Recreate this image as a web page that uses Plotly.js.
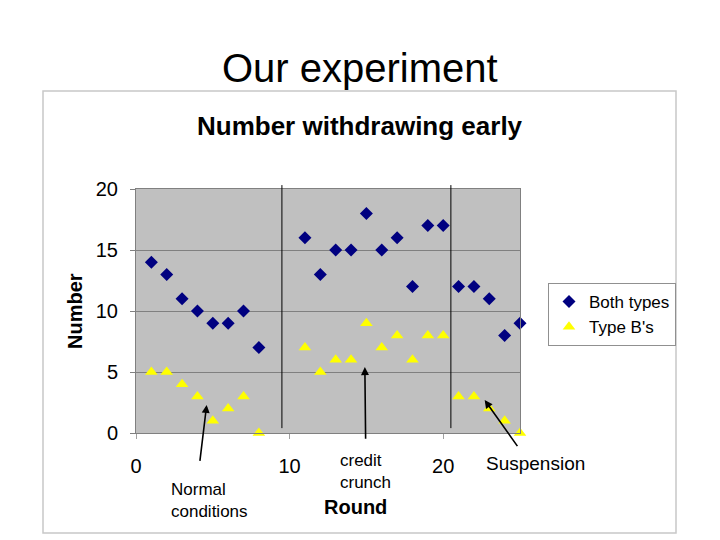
<!DOCTYPE html>
<html>
<head>
<meta charset="utf-8">
<script src="https://cdn.plot.ly/plotly-3.0.1.min.js"></script>
<style>html,body{margin:0;padding:0;background:#fff;}#chart{width:720px;height:540px;}</style>
</head>
<body>
<div id="chart"></div>
<script>
// Data
var roundsA = [1,2,3,4,5,6,7,8];
var roundsB = [11,12,13,14,15,16,17,18,19,20];
var roundsC = [21,22,23,24,25];
var bothTypesA = [14,13,11,10,9,9,10,7];
var bothTypesB = [16,13,15,15,18,15,16,12,17,17];
var bothTypesC = [12,12,11,8,9];
var typeBsA = [5,5,4,3,1,2,3,0];
var typeBsB = [7,5,6,6,9,7,8,6,8,8];
var typeBsC = [3,3,2,1,0];
var rounds = roundsA.concat(roundsB, roundsC);
var bothTypes = bothTypesA.concat(bothTypesB, bothTypesC);
var typeBs = typeBsA.concat(typeBsB, typeBsC);
var phaseBreaks = [9.5, 20.5];
var yTicks = [0,5,10,15,20];
var xTicks = [0,10,20];

var font = 'Liberation Sans, Arial, sans-serif';

var traces = [
  {x: rounds, y: bothTypes, type: 'scatter', mode: 'markers', name: 'Both types',
   marker: {symbol: 'diamond', size: 10, color: '#000080'}, cliponaxis: false},
  {x: rounds, y: typeBs, type: 'scatter', mode: 'markers', name: "Type B's",
   marker: {symbol: 'triangle-up', size: 11, color: '#ffff00'}, cliponaxis: false}
];

var shapes = phaseBreaks.map(function(b){
  return {type: 'line', xref: 'x', yref: 'paper', x0: b, x1: b, y0: 0.02, y1: 1.016,
          line: {color: '#000000', width: 1}};
});
// outer chart frame
shapes.push({type: 'rect', xref: 'paper', yref: 'paper',
  x0: (43-136)/384, x1: (676-136)/384, y0: (433-533)/244, y1: (433-91)/244,
  line: {color: '#c8c8c8', width: 1.5}, layer: 'below'});

function px(x){ return (x-136)/384; }
function py(y){ return (433-y)/244; }

var annotations = [
  {text: 'Our experiment', xref: 'paper', yref: 'paper', x: px(360), y: py(68),
   xanchor: 'center', yanchor: 'middle',
   showarrow: false, font: {family: font, size: 40, color: '#000'}},
  {text: '<b>Number withdrawing early</b>', xref: 'paper', yref: 'paper', x: px(360), y: py(126),
   xanchor: 'center', yanchor: 'middle',
   showarrow: false, font: {family: font, size: 26, color: '#000'}},
  {text: '<b>Round</b>', xref: 'paper', yref: 'paper', x: px(355), y: py(507),
   xanchor: 'center', yanchor: 'middle',
   showarrow: false, font: {family: font, size: 20, color: '#000'}},
  {text: '<b>Number</b>', xref: 'paper', yref: 'paper', x: px(75), y: 0.5, textangle: -90,
   xanchor: 'center', yanchor: 'middle',
   showarrow: false, font: {family: font, size: 20, color: '#000'}},
  {text: 'Normal<br>conditions', xref: 'paper', yref: 'paper', x: px(169), y: py(500),
   xanchor: 'left', yanchor: 'middle', align: 'left', showarrow: false, font: {family: font, size: 17, color: '#000'}},
  {text: 'credit<br>crunch', xref: 'paper', yref: 'paper', x: px(338), y: py(471),
   xanchor: 'left', yanchor: 'middle', align: 'left', showarrow: false, font: {family: font, size: 17, color: '#000'}},
  {text: 'Suspension', xref: 'paper', yref: 'paper', x: px(535), y: py(463),
   xanchor: 'center', yanchor: 'middle',
   showarrow: false, font: {family: font, size: 19, color: '#000'}},
  {text: '', x: 4.6, y: 2.3, xref: 'x', yref: 'y', axref: 'x', ayref: 'y', ax: 4.15, ay: -2.4,
   showarrow: true, arrowhead: 2, arrowsize: 1, arrowwidth: 1.6, arrowcolor: '#000'},
  {text: '', x: 14.9, y: 5.4, xref: 'x', yref: 'y', axref: 'x', ayref: 'y', ax: 14.95, ay: -0.6,
   showarrow: true, arrowhead: 2, arrowsize: 1, arrowwidth: 1.6, arrowcolor: '#000'},
  {text: '', x: 22.7, y: 2.7, xref: 'x', yref: 'y', axref: 'x', ayref: 'y', ax: 24.9, ay: -1.2,
   showarrow: true, arrowhead: 2, arrowsize: 1, arrowwidth: 1.6, arrowcolor: '#000'}
];

var layout = {
  width: 720, height: 540,
  margin: {l: 136, r: 200, t: 189, b: 107},
  paper_bgcolor: '#ffffff', plot_bgcolor: '#c0c0c0',
  font: {family: font, size: 18, color: '#000'},
  showlegend: true,
  legend: {x: px(548), y: py(283), xanchor: 'left', yanchor: 'top',
           bgcolor: '#ffffff', bordercolor: '#909090', borderwidth: 1,
           font: {family: font, size: 17, color: '#000'},
           tracegroupgap: 0},
  xaxis: {range: [0, 25], tickvals: xTicks, ticktext: xTicks.map(String), showgrid: false, zeroline: false,
          showline: true, linecolor: '#808080', mirror: true, ticks: 'outside', ticklen: 5, tickcolor: '#a0a0a0',
          ticklabelstandoff: 10,
          tickfont: {family: font, size: 20}, fixedrange: true},
  yaxis: {range: [0, 20], tickvals: yTicks, ticktext: yTicks.map(String), showgrid: true, gridcolor: '#808080', gridwidth: 1,
          zeroline: false, showline: true, linecolor: '#808080', mirror: true, ticks: 'outside', ticklen: 5,
          ticklabelstandoff: 8,
          tickcolor: '#808080', tickfont: {family: font, size: 20}, fixedrange: true},
  shapes: shapes,
  annotations: annotations
};

Plotly.newPlot('chart', traces, layout, {displayModeBar: false, staticPlot: true});
</script>
</body>
</html>
